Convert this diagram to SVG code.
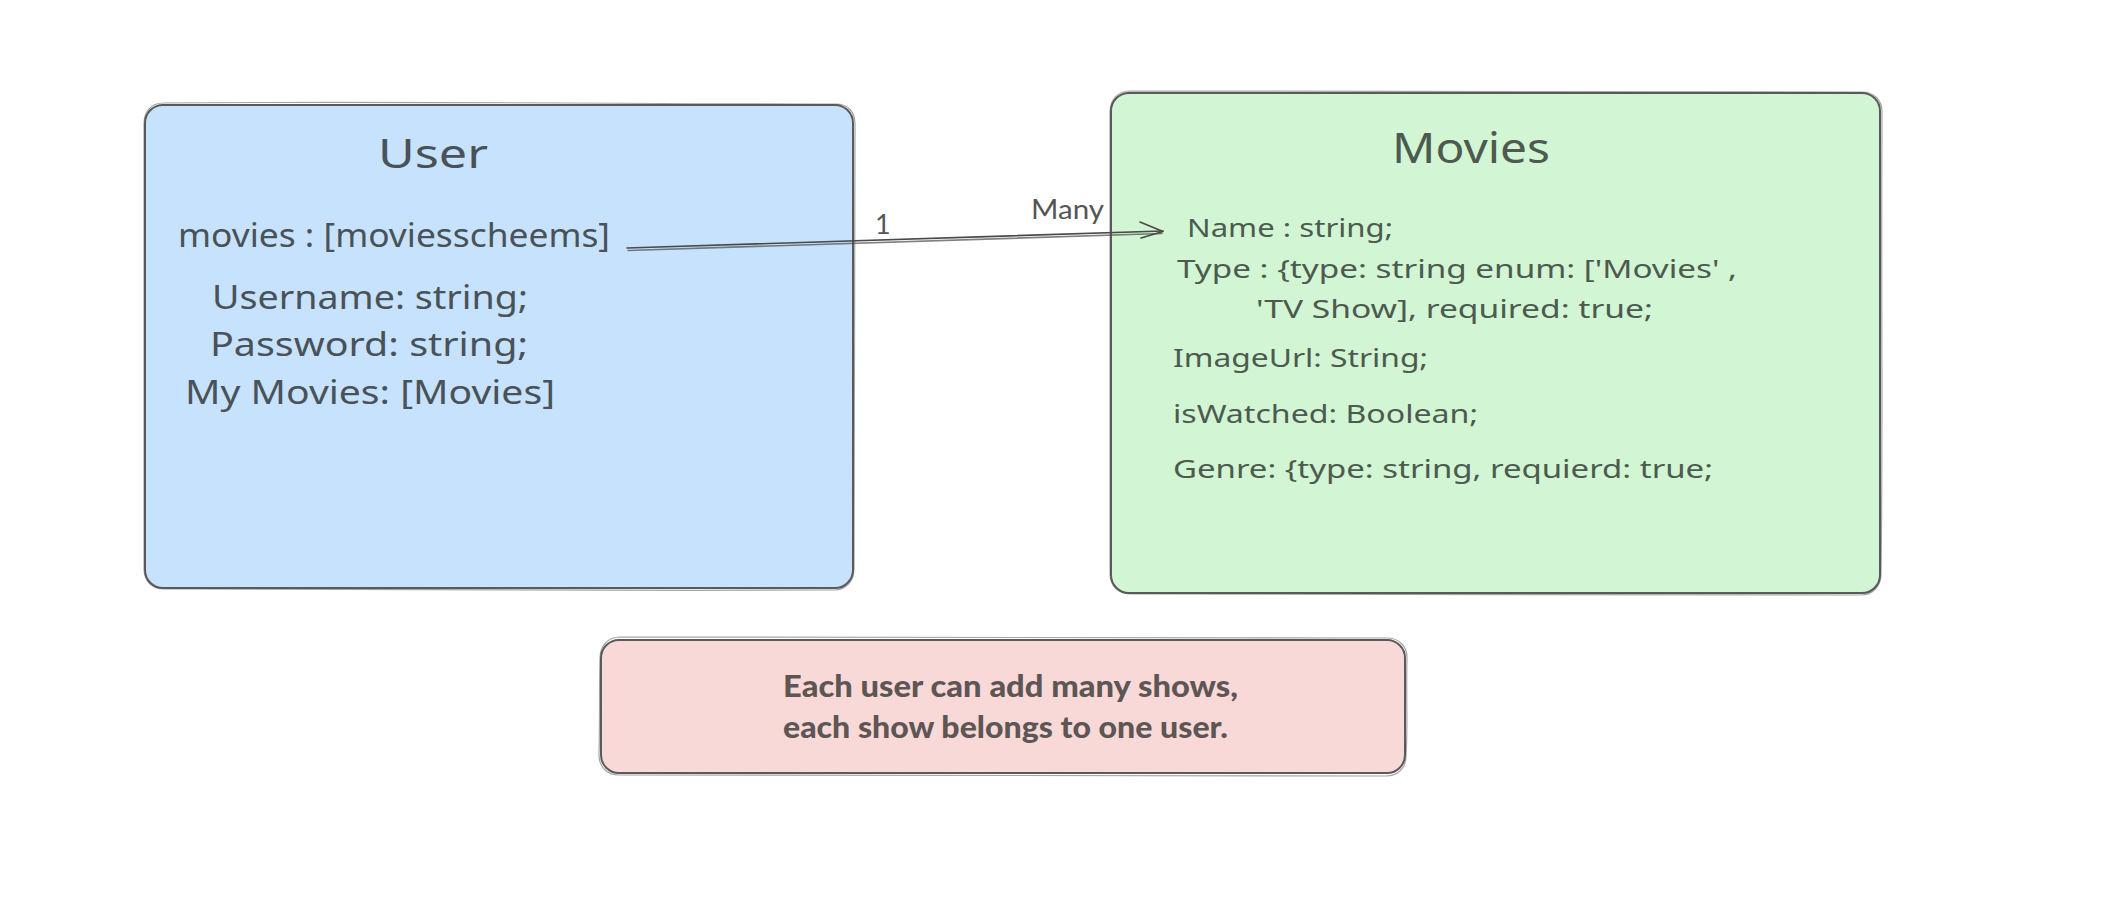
<svg xmlns="http://www.w3.org/2000/svg" width="2110" height="910" viewBox="0 0 2110 910">
  <defs>
    <style>
      .box { stroke: #5a5a5a; stroke-width: 2; }
      .sk { fill: none; stroke: #5a5a5a; stroke-width: 1.2; opacity: 0.55; }
      .hand { font-family: "Noto Sans", "Liberation Sans", sans-serif; }
      .ut { fill: #4a5259; }
      .mt { fill: #4c5a50; }
      .lbl { font-family: Lato, "Liberation Sans", sans-serif; font-size: 27px; fill: #555555; }
      .note { font-family: Lato, "Noto Sans", sans-serif; font-weight: 900; font-size: 31px; fill: #5e5655; }
      .conn { fill: none; stroke: #4a4a4a; stroke-width: 1.6; stroke-linecap: round; stroke-linejoin: round; }
    </style>
  </defs>
  <rect width="2110" height="910" fill="#ffffff"/>

  <g id="node-user">
    <rect class="box" x="145" y="105" width="708" height="483" rx="18" fill="#c7e2fc"/>
    <path class="sk" d="M163 103 C 400 101, 650 104, 836 104 C 848 104, 855 112, 855 124 C 854 300, 855 450, 854 569 C 854 581, 846 590, 834 590 C 600 591, 350 589, 164 589 C 152 589, 144 581, 144 569 C 145 400, 144 250, 144 124 C 144 112, 151 103, 163 103"/>
    <text class="hand ut" x="378" y="168" font-size="40" textLength="110" lengthAdjust="spacingAndGlyphs">User</text>
    <text class="hand ut" x="178" y="247" font-size="32" textLength="432" lengthAdjust="spacingAndGlyphs">movies : [moviesscheems]</text>
    <text class="hand ut" x="212" y="309" font-size="32" textLength="316" lengthAdjust="spacingAndGlyphs">Username: string;</text>
    <text class="hand ut" x="210" y="356" font-size="32" textLength="318" lengthAdjust="spacingAndGlyphs">Password: string;</text>
    <text class="hand ut" x="185" y="404" font-size="32" textLength="370" lengthAdjust="spacingAndGlyphs">My Movies: [Movies]</text>
  </g>

  <g id="node-movies">
    <rect class="box" x="1111" y="93" width="769" height="500" rx="18" fill="#d2f5d3"/>
    <path class="sk" d="M1130 91 C 1400 92, 1650 90, 1862 92 C 1874 92, 1882 100, 1882 112 C 1881 300, 1883 450, 1881 574 C 1881 586, 1873 595, 1861 595 C 1600 596, 1350 594, 1131 594 C 1119 594, 1110 586, 1110 574 C 1111 400, 1109 250, 1110 112 C 1110 100, 1118 91, 1130 91"/>
    <text class="hand mt" x="1392" y="163" font-size="42" textLength="158" lengthAdjust="spacingAndGlyphs">Movies</text>
    <text class="hand mt" x="1187" y="237" font-size="25" textLength="206" lengthAdjust="spacingAndGlyphs">Name : string;</text>
    <text class="hand mt" x="1177" y="278" font-size="25" textLength="560" lengthAdjust="spacingAndGlyphs">Type : {type: string enum: ['Movies' ,</text>
    <text class="hand mt" x="1256" y="318" font-size="25" textLength="397" lengthAdjust="spacingAndGlyphs">'TV Show], required: true;</text>
    <text class="hand mt" x="1173" y="367" font-size="25" textLength="255" lengthAdjust="spacingAndGlyphs">ImageUrl: String;</text>
    <text class="hand mt" x="1173" y="423" font-size="25" textLength="305" lengthAdjust="spacingAndGlyphs">isWatched: Boolean;</text>
    <text class="hand mt" x="1173" y="478" font-size="25" textLength="540" lengthAdjust="spacingAndGlyphs">Genre: {type: string, requierd: true;</text>
  </g>

  <g id="node-note">
    <rect class="box" x="601" y="640" width="804" height="133" rx="18" fill="#f8d9d8"/>
    <path class="sk" d="M620 637 C 900 636, 1150 639, 1387 638 C 1399 638, 1407 646, 1407 658 C 1406 700, 1408 730, 1406 756 C 1406 768, 1398 776, 1386 776 C 1100 777, 850 774, 619 775 C 607 775, 599 767, 599 755 C 600 720, 599 690, 600 658 C 600 646, 608 637, 620 637"/>
    <text class="note" x="783" y="697" textLength="455" lengthAdjust="spacingAndGlyphs">Each user can add many shows,</text>
    <text class="note" x="783" y="738" textLength="445" lengthAdjust="spacingAndGlyphs">each show belongs to one user.</text>
  </g>

  <g id="connectors">
    <path class="conn" d="M627 248 L 1163 231"/>
    <path class="conn" d="M628 250.5 L 1162 233.5" opacity="0.7"/>
    <path class="conn" d="M1140 222 L 1163 231.5 L 1141 238"/>
    <text class="lbl" x="875" y="234">1</text>
    <text class="lbl" x="1031" y="219" textLength="73" lengthAdjust="spacingAndGlyphs">Many</text>
  </g>
</svg>
